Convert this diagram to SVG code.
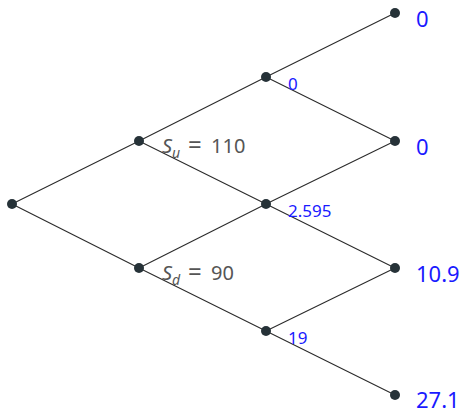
<svg xmlns="http://www.w3.org/2000/svg" width="465" height="413" viewBox="0 0 465 413">
<style>
.e{stroke:#2b2b2b;stroke-width:1.1;fill:none}
.n{fill:#263238}
.s{font-family:"Noto Sans","Open Sans",sans-serif;fill:#555;font-size:20px}
.v{font-family:"Noto Sans","Open Sans",sans-serif;fill:#1a1aff;font-size:17px}
.t{font-family:"Noto Sans","Open Sans",sans-serif;fill:#1a1aff;font-size:22px}
</style>
<rect width="465" height="413" fill="#fff"/>
<g id="edges">
<path class="e" d="M12,204L139,141M12,204L139,268M139,141L266,77M139,141L266,204M139,268L266,204M139,268L266,331M266,77L395,13M266,77L395,141M266,204L395,141M266,204L395,268M266,331L395,268M266,331L395,395"/>
</g>
<g id="n0"><circle class="n" cx="12" cy="204" r="5"/></g>
<g id="nu"><circle class="n" cx="139" cy="141" r="5"/><text class="s" x="162" y="153"><tspan font-style="italic">S</tspan><tspan font-style="italic" font-size="14" dy="5">u</tspan><tspan dy="-5" x="188" font-size="24">=</tspan><tspan x="211">110</tspan></text></g>
<g id="nd"><circle class="n" cx="139" cy="268" r="5"/><text class="s" x="162" y="280"><tspan font-style="italic">S</tspan><tspan font-style="italic" font-size="14" dy="5">d</tspan><tspan dy="-5" x="188" font-size="24">=</tspan><tspan x="211">90</tspan></text></g>
<g id="nuu"><circle class="n" cx="266" cy="77" r="5"/><text class="v" x="288" y="90">0</text></g>
<g id="nud"><circle class="n" cx="266" cy="204" r="5"/><text class="v" x="288" y="217">2.595</text></g>
<g id="ndd"><circle class="n" cx="266" cy="331" r="5"/><text class="v" x="288" y="344">19</text></g>
<g id="t1"><circle class="n" cx="395" cy="13" r="5"/><text class="t" x="416" y="27">0</text></g>
<g id="t2"><circle class="n" cx="395" cy="141" r="5"/><text class="t" x="416" y="155">0</text></g>
<g id="t3"><circle class="n" cx="395" cy="268" r="5"/><text class="t" x="416" y="282">10.9</text></g>
<g id="t4"><circle class="n" cx="395" cy="395" r="5"/><text class="t" x="416" y="408">27.1</text></g>
</svg>
